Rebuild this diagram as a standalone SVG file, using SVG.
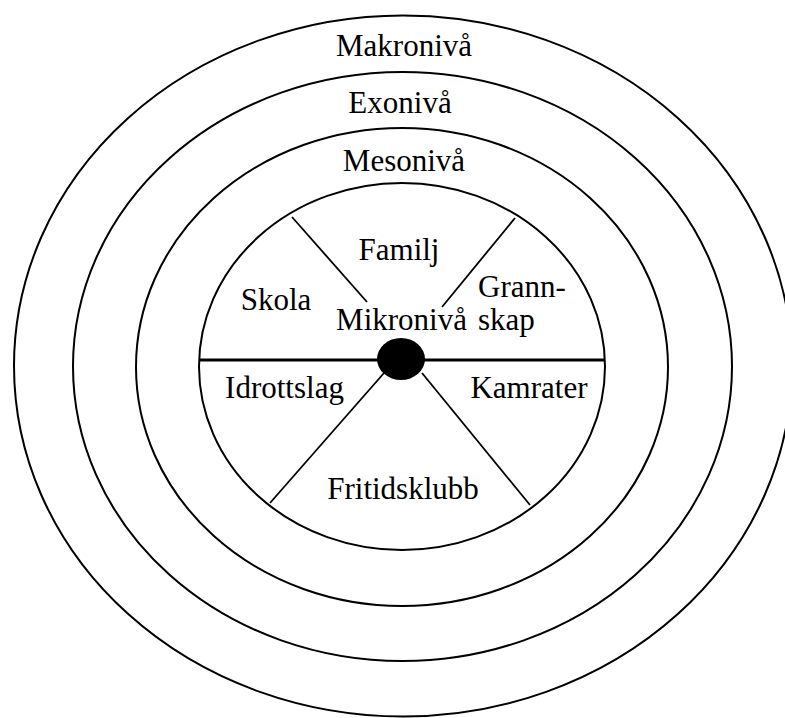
<svg xmlns="http://www.w3.org/2000/svg" width="785" height="718" viewBox="0 0 785 718">
<style>
.ring{fill:none;stroke:#000;stroke-width:2}
.spoke{fill:none;stroke:#000;stroke-width:1.8}
.axis{fill:none;stroke:#000;stroke-width:3}
.lbl{font-family:"Liberation Serif","Times New Roman",serif;font-size:31px;fill:#000}
.c{text-anchor:middle}
</style>
<rect width="785" height="718" fill="#fff"/>
<g id="makroniva">
<ellipse class="ring" cx="403" cy="366" rx="389" ry="350.5"/>
<text class="lbl c" x="404" y="56">Makronivå</text>
</g>
<g id="exoniva">
<ellipse class="ring" cx="402.5" cy="366.5" rx="329.5" ry="294.5"/>
<text class="lbl c" x="400" y="113">Exonivå</text>
</g>
<g id="mesoniva">
<ellipse class="ring" cx="402" cy="367" rx="266" ry="239"/>
<text class="lbl c" x="404" y="171">Mesonivå</text>
</g>
<g id="mikroniva">
<ellipse class="ring" cx="402" cy="366.5" rx="203" ry="183.5"/>
<text class="lbl c" x="401.5" y="330">Mikronivå</text>
</g>
<g id="connectors">
<line class="axis" x1="199" y1="360" x2="605" y2="360"/>
<line class="spoke" x1="292" y1="217" x2="367" y2="302"/>
<line class="spoke" x1="515" y1="218" x2="442" y2="307"/>
<line class="spoke" x1="384" y1="373" x2="270" y2="503"/>
<line class="spoke" x1="422" y1="373" x2="530" y2="505"/>
</g>
<g id="centrum">
<ellipse cx="401" cy="359" rx="24" ry="21" fill="#000"/>
</g>
<g id="familj"><text class="lbl c" x="399" y="260">Familj</text></g>
<g id="skola"><text class="lbl c" x="276" y="310">Skola</text></g>
<g id="grannskap">
<text class="lbl" x="478" y="297">Grann-</text>
<text class="lbl" x="478" y="330">skap</text>
</g>
<g id="idrottslag"><text class="lbl c" x="284.5" y="398">Idrottslag</text></g>
<g id="kamrater"><text class="lbl c" x="529" y="398">Kamrater</text></g>
<g id="fritidsklubb"><text class="lbl c" x="403" y="499">Fritidsklubb</text></g>
</svg>
